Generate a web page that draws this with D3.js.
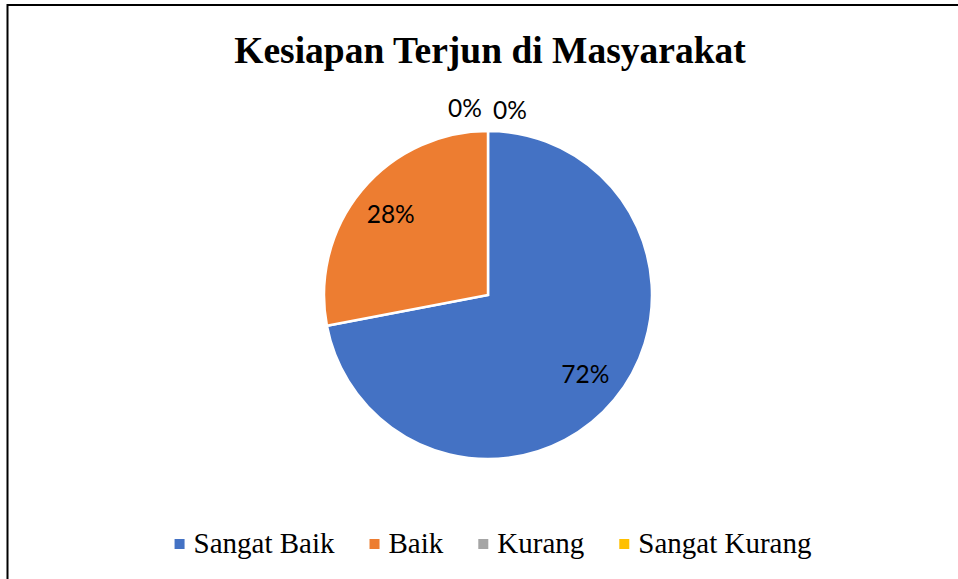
<!DOCTYPE html>
<html>
<head>
<meta charset="utf-8">
<script src="https://cdn.jsdelivr.net/npm/d3@7"></script>
<style>
  body { margin: 0; background: #fff; }
  svg { display: block; }
</style>
</head>
<body>
<svg width="958" height="579"></svg>
<script>
'use strict';

// chart data
var categories = ['Sangat Baik', 'Baik', 'Kurang', 'Sangat Kurang'];
var values = [72, 28, 0, 0];
var colors = ['#4472C4', '#ED7D31', '#A5A5A5', '#FFC000'];
var labels = ['72%', '28%', '0%', '0%'];

var svg = d3.select('svg');
var W = 958, H = 579;

// frame (only top + left visible in the crop)
svg.append('line').attr('x1', 7.5).attr('y1', 5).attr('x2', W).attr('y2', 5)
    .attr('stroke', '#000').attr('stroke-width', 2);
svg.append('line').attr('x1', 7.5).attr('y1', 4).attr('x2', 7.5).attr('y2', H)
    .attr('stroke', '#000').attr('stroke-width', 2);

svg.append('text')
    .attr('x', 490).attr('y', 63)
    .attr('text-anchor', 'middle')
    .attr('font-family', '"Liberation Serif", "Times New Roman", serif')
    .attr('font-weight', 'bold')
    .attr('font-size', 37.5)
    .text('Kesiapan Terjun di Masyarakat');

var cx = 488, cy = 295, r = 164;

var data = categories.map(function (c, i) {
    return { name: c, value: values[i], color: colors[i], label: labels[i] };
});

var pie = d3.pie().sort(null).value(function (d) { return d.value; });
var arc = d3.arc().innerRadius(0).outerRadius(r);
var arcs = pie(data);

var g = svg.append('g').attr('transform', 'translate(' + cx + ',' + cy + ')');

g.selectAll('path')
    .data(arcs)
    .enter().append('path')
    .attr('d', arc)
    .attr('fill', function (d) { return d.data.color; })
    .attr('stroke', '#fff')
    .attr('stroke-width', function (d) { return d.value > 0 ? 2.5 : 0; });

// label positions: inside for real slices, outside above for zero slices
var inner = d3.arc().innerRadius(r * 0.77).outerRadius(r * 0.77);
var zeroOffsets = [0, 0, -23, 22];
g.selectAll('text.lbl')
    .data(arcs)
    .enter().append('text')
    .attr('class', 'lbl')
    .attr('font-family', 'Lato, "Open Sans", sans-serif')
    .attr('font-size', 24.5)
    .attr('text-anchor', 'middle')
    .attr('x', function (d, i) {
        return d.value > 0 ? inner.centroid(d)[0] : zeroOffsets[i];
    })
    .attr('y', function (d, i) {
        return d.value > 0 ? inner.centroid(d)[1] + 8 : -r - 12 - (i === 2 ? 2 : 0);
    })
    .text(function (d) { return d.data.label; });

// legend
var legend = svg.append('g').attr('transform', 'translate(0,553)');
var items = legend.selectAll('g')
    .data(data)
    .enter().append('g');
items.append('rect')
    .attr('width', 10).attr('height', 10)
    .attr('y', -14)
    .attr('fill', function (d) { return d.color; });
items.append('text')
    .attr('x', 19)
    .attr('font-family', '"Liberation Serif", "Times New Roman", serif')
    .attr('font-size', 29)
    .text(function (d) { return d.name; });

var gap = 35, x = 0, widths = [];
items.each(function () {
    var w = 19 + d3.select(this).select('text').node().getComputedTextLength();
    widths.push(w);
});
var total = d3.sum(widths) + gap * (widths.length - 1);
x = (W - total) / 2 + 14;
items.attr('transform', function (d, i) {
    var t = 'translate(' + x + ',0)';
    x += widths[i] + gap;
    return t;
});
</script>
</body>
</html>
